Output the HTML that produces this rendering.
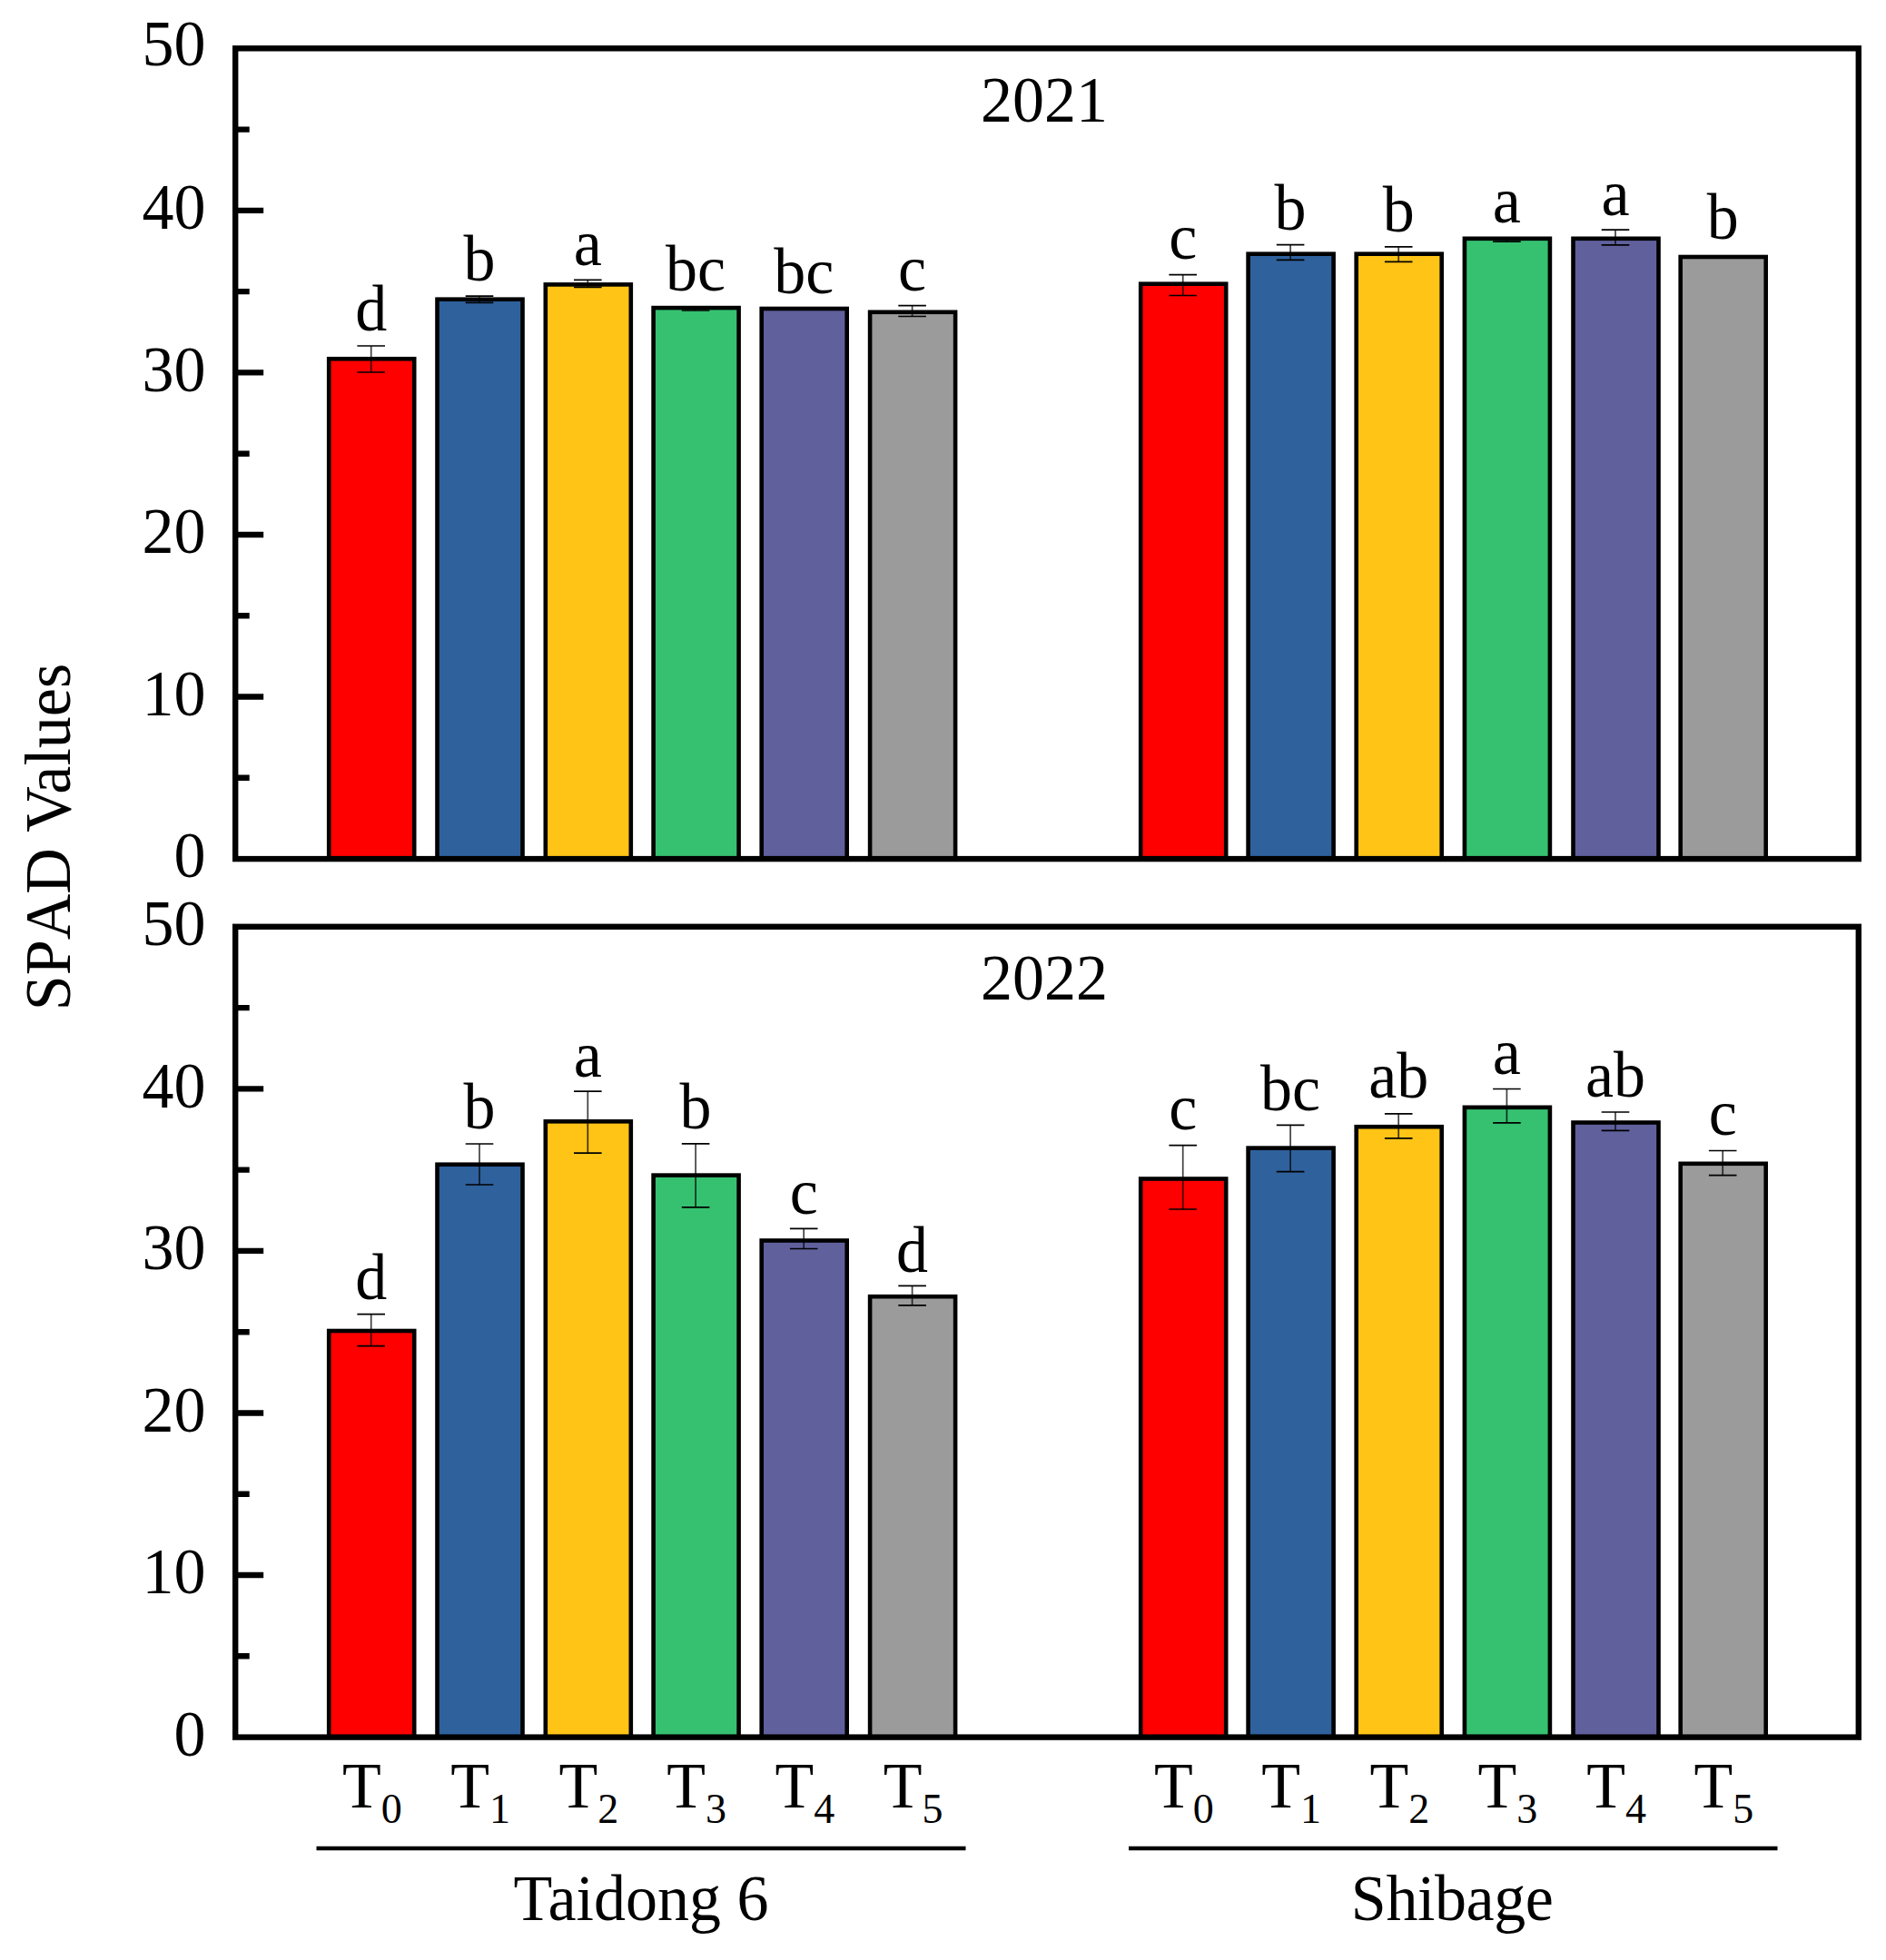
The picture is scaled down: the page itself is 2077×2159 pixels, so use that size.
<!DOCTYPE html>
<html lang="en"><head><meta charset="utf-8"><title>SPAD Values</title>
<style>html,body{margin:0;padding:0;background:#fff}body{width:2077px;height:2159px;overflow:hidden}svg{display:block}</style>
</head><body>
<svg width="2077" height="2159" viewBox="0 0 2077 2159" font-family='"Liberation Serif","Times New Roman",serif' font-size="70" fill="#000" style="font-kerning:none">
<rect width="2077" height="2159" fill="#fff"/>
<rect x="362.2" y="395.3" width="94" height="550.8" fill="#FF0000" stroke="#000" stroke-width="4.6"/>
<path d="M408.7 381V410" stroke="#000" stroke-opacity="0.75" stroke-width="1.7" fill="none"/><path d="M393.4 381h30.6M393.4 410h30.6" stroke="#000" stroke-width="1.7" fill="none"/>
<text transform="translate(408.7 363.5) scale(1 1.02)" text-anchor="middle">d</text>
<rect x="481.5" y="329.7" width="94" height="616.4" fill="#2F619D" stroke="#000" stroke-width="4.6"/>
<path d="M528 326.2V333.3" stroke="#000" stroke-opacity="0.75" stroke-width="1.7" fill="none"/><path d="M512.7 326.2h30.6M512.7 333.3h30.6" stroke="#000" stroke-width="1.7" fill="none"/>
<text transform="translate(528 309.3) scale(1 1.02)" text-anchor="middle">b</text>
<rect x="600.8" y="313.4" width="94" height="632.7" fill="#FFC416" stroke="#000" stroke-width="4.6"/>
<path d="M647.3 308.3V316.4" stroke="#000" stroke-opacity="0.75" stroke-width="1.7" fill="none"/><path d="M632 308.3h30.6M632 316.4h30.6" stroke="#000" stroke-width="1.7" fill="none"/>
<text transform="translate(647.3 292.3) scale(1 1.02)" text-anchor="middle">a</text>
<rect x="719.6" y="339.1" width="94" height="607" fill="#35C170" stroke="#000" stroke-width="4.6"/>
<path d="M766.1 338.6V342" stroke="#000" stroke-opacity="0.75" stroke-width="1.7" fill="none"/><path d="M750.8 338.6h30.6M750.8 342h30.6" stroke="#000" stroke-width="1.7" fill="none"/>
<text transform="translate(766.1 319.5) scale(1 1.02)" text-anchor="middle">bc</text>
<rect x="838.7" y="340" width="94" height="606.1" fill="#60609D" stroke="#000" stroke-width="4.6"/>
<text transform="translate(885.2 322.8) scale(1 1.02)" text-anchor="middle">bc</text>
<rect x="958.1" y="343.8" width="94" height="602.3" fill="#9B9B9B" stroke="#000" stroke-width="4.6"/>
<path d="M1004.6 336.7V348.5" stroke="#000" stroke-opacity="0.75" stroke-width="1.7" fill="none"/><path d="M989.3 336.7h30.6M989.3 348.5h30.6" stroke="#000" stroke-width="1.7" fill="none"/>
<text transform="translate(1004.6 319.6) scale(1 1.02)" text-anchor="middle">c</text>
<rect x="1256.2" y="312.7" width="94" height="633.4" fill="#FF0000" stroke="#000" stroke-width="4.6"/>
<path d="M1302.7 302.6V325.5" stroke="#000" stroke-opacity="0.75" stroke-width="1.7" fill="none"/><path d="M1287.4 302.6h30.6M1287.4 325.5h30.6" stroke="#000" stroke-width="1.7" fill="none"/>
<text transform="translate(1302.7 284.9) scale(1 1.02)" text-anchor="middle">c</text>
<rect x="1374.6" y="279.7" width="94" height="666.4" fill="#2F619D" stroke="#000" stroke-width="4.6"/>
<path d="M1421.1 269.6V286.4" stroke="#000" stroke-opacity="0.75" stroke-width="1.7" fill="none"/><path d="M1405.8 269.6h30.6M1405.8 286.4h30.6" stroke="#000" stroke-width="1.7" fill="none"/>
<text transform="translate(1421.1 253.2) scale(1 1.02)" text-anchor="middle">b</text>
<rect x="1493.7" y="279.7" width="94" height="666.4" fill="#FFC416" stroke="#000" stroke-width="4.6"/>
<path d="M1540.2 271.8V288.3" stroke="#000" stroke-opacity="0.75" stroke-width="1.7" fill="none"/><path d="M1524.9 271.8h30.6M1524.9 288.3h30.6" stroke="#000" stroke-width="1.7" fill="none"/>
<text transform="translate(1540.2 254.8) scale(1 1.02)" text-anchor="middle">b</text>
<rect x="1612.9" y="262.8" width="94" height="683.3" fill="#35C170" stroke="#000" stroke-width="4.6"/>
<path d="M1659.4 262.6V266.2" stroke="#000" stroke-opacity="0.75" stroke-width="1.7" fill="none"/><path d="M1644.1 262.6h30.6M1644.1 266.2h30.6" stroke="#000" stroke-width="1.7" fill="none"/>
<text transform="translate(1659.4 245) scale(1 1.02)" text-anchor="middle">a</text>
<rect x="1732.5" y="262.8" width="94" height="683.3" fill="#60609D" stroke="#000" stroke-width="4.6"/>
<path d="M1779 253.2V269.8" stroke="#000" stroke-opacity="0.75" stroke-width="1.7" fill="none"/><path d="M1763.7 253.2h30.6M1763.7 269.8h30.6" stroke="#000" stroke-width="1.7" fill="none"/>
<text transform="translate(1779 237) scale(1 1.02)" text-anchor="middle">a</text>
<rect x="1850.7" y="283" width="94" height="663.1" fill="#9B9B9B" stroke="#000" stroke-width="4.6"/>
<text transform="translate(1897.2 263) scale(1 1.02)" text-anchor="middle">b</text>
<rect x="259.2" y="53.3" width="1787.6" height="892.8" fill="none" stroke="#000" stroke-width="6.4"/>
<path d="M259.2 856.82h15.5M259.2 767.54h31M259.2 678.26h15.5M259.2 588.98h31M259.2 499.7h15.5M259.2 410.42h31M259.2 321.14h15.5M259.2 231.86h31M259.2 142.58h15.5" stroke="#000" stroke-width="6.4" fill="none"/>
<text transform="translate(226.5 966.4) scale(1 1.02)" text-anchor="end">0</text>
<text transform="translate(226.5 787.84) scale(1 1.02)" text-anchor="end">10</text>
<text transform="translate(226.5 609.28) scale(1 1.02)" text-anchor="end">20</text>
<text transform="translate(226.5 430.72) scale(1 1.02)" text-anchor="end">30</text>
<text transform="translate(226.5 252.16) scale(1 1.02)" text-anchor="end">40</text>
<text transform="translate(226.5 72.1) scale(1 1.02)" text-anchor="end">50</text>
<text transform="translate(1150 133.5) scale(1 1.02)" text-anchor="middle">2021</text>
<rect x="362.2" y="1466" width="94" height="447.6" fill="#FF0000" stroke="#000" stroke-width="4.6"/>
<path d="M408.7 1447.7V1482.6" stroke="#000" stroke-opacity="0.75" stroke-width="1.7" fill="none"/><path d="M393.4 1447.7h30.6M393.4 1482.6h30.6" stroke="#000" stroke-width="1.7" fill="none"/>
<text transform="translate(408.7 1431.1) scale(1 1.02)" text-anchor="middle">d</text>
<rect x="481.5" y="1282.7" width="94" height="630.9" fill="#2F619D" stroke="#000" stroke-width="4.6"/>
<path d="M528 1260V1305" stroke="#000" stroke-opacity="0.75" stroke-width="1.7" fill="none"/><path d="M512.7 1260h30.6M512.7 1305h30.6" stroke="#000" stroke-width="1.7" fill="none"/>
<text transform="translate(528 1243.1) scale(1 1.02)" text-anchor="middle">b</text>
<rect x="600.8" y="1235.3" width="94" height="678.3" fill="#FFC416" stroke="#000" stroke-width="4.6"/>
<path d="M647.3 1202.1V1270.2" stroke="#000" stroke-opacity="0.75" stroke-width="1.7" fill="none"/><path d="M632 1202.1h30.6M632 1270.2h30.6" stroke="#000" stroke-width="1.7" fill="none"/>
<text transform="translate(647.3 1185.9) scale(1 1.02)" text-anchor="middle">a</text>
<rect x="719.6" y="1294.6" width="94" height="619" fill="#35C170" stroke="#000" stroke-width="4.6"/>
<path d="M766.1 1259.9V1329.8" stroke="#000" stroke-opacity="0.75" stroke-width="1.7" fill="none"/><path d="M750.8 1259.9h30.6M750.8 1329.8h30.6" stroke="#000" stroke-width="1.7" fill="none"/>
<text transform="translate(766.1 1242.8) scale(1 1.02)" text-anchor="middle">b</text>
<rect x="838.7" y="1366.5" width="94" height="547.1" fill="#60609D" stroke="#000" stroke-width="4.6"/>
<path d="M885.2 1353.3V1375.5" stroke="#000" stroke-opacity="0.75" stroke-width="1.7" fill="none"/><path d="M869.9 1353.3h30.6M869.9 1375.5h30.6" stroke="#000" stroke-width="1.7" fill="none"/>
<text transform="translate(885.2 1336.7) scale(1 1.02)" text-anchor="middle">c</text>
<rect x="958.1" y="1428.2" width="94" height="485.4" fill="#9B9B9B" stroke="#000" stroke-width="4.6"/>
<path d="M1004.6 1416.4V1437.9" stroke="#000" stroke-opacity="0.75" stroke-width="1.7" fill="none"/><path d="M989.3 1416.4h30.6M989.3 1437.9h30.6" stroke="#000" stroke-width="1.7" fill="none"/>
<text transform="translate(1004.6 1400.5) scale(1 1.02)" text-anchor="middle">d</text>
<rect x="1256.2" y="1298.5" width="94" height="615.1" fill="#FF0000" stroke="#000" stroke-width="4.6"/>
<path d="M1302.7 1261.6V1332" stroke="#000" stroke-opacity="0.75" stroke-width="1.7" fill="none"/><path d="M1287.4 1261.6h30.6M1287.4 1332h30.6" stroke="#000" stroke-width="1.7" fill="none"/>
<text transform="translate(1302.7 1244) scale(1 1.02)" text-anchor="middle">c</text>
<rect x="1374.6" y="1264.6" width="94" height="649" fill="#2F619D" stroke="#000" stroke-width="4.6"/>
<path d="M1421.1 1239.3V1290.6" stroke="#000" stroke-opacity="0.75" stroke-width="1.7" fill="none"/><path d="M1405.8 1239.3h30.6M1405.8 1290.6h30.6" stroke="#000" stroke-width="1.7" fill="none"/>
<text transform="translate(1421.1 1222.8) scale(1 1.02)" text-anchor="middle">bc</text>
<rect x="1493.7" y="1241.2" width="94" height="672.4" fill="#FFC416" stroke="#000" stroke-width="4.6"/>
<path d="M1540.2 1226.9V1253.8" stroke="#000" stroke-opacity="0.75" stroke-width="1.7" fill="none"/><path d="M1524.9 1226.9h30.6M1524.9 1253.8h30.6" stroke="#000" stroke-width="1.7" fill="none"/>
<text transform="translate(1540.2 1208.7) scale(1 1.02)" text-anchor="middle">ab</text>
<rect x="1612.9" y="1219.8" width="94" height="693.8" fill="#35C170" stroke="#000" stroke-width="4.6"/>
<path d="M1659.4 1199.5V1236.9" stroke="#000" stroke-opacity="0.75" stroke-width="1.7" fill="none"/><path d="M1644.1 1199.5h30.6M1644.1 1236.9h30.6" stroke="#000" stroke-width="1.7" fill="none"/>
<text transform="translate(1659.4 1182.5) scale(1 1.02)" text-anchor="middle">a</text>
<rect x="1732.5" y="1236.5" width="94" height="677.1" fill="#60609D" stroke="#000" stroke-width="4.6"/>
<path d="M1779 1225V1245.3" stroke="#000" stroke-opacity="0.75" stroke-width="1.7" fill="none"/><path d="M1763.7 1225h30.6M1763.7 1245.3h30.6" stroke="#000" stroke-width="1.7" fill="none"/>
<text transform="translate(1779 1208) scale(1 1.02)" text-anchor="middle">ab</text>
<rect x="1850.7" y="1281.8" width="94" height="631.8" fill="#9B9B9B" stroke="#000" stroke-width="4.6"/>
<path d="M1897.2 1267.5V1294.6" stroke="#000" stroke-opacity="0.75" stroke-width="1.7" fill="none"/><path d="M1881.9 1267.5h30.6M1881.9 1294.6h30.6" stroke="#000" stroke-width="1.7" fill="none"/>
<text transform="translate(1897.2 1250) scale(1 1.02)" text-anchor="middle">c</text>
<rect x="259.2" y="1020.8" width="1787.6" height="892.8" fill="none" stroke="#000" stroke-width="6.4"/>
<path d="M259.2 1824.32h15.5M259.2 1735.04h31M259.2 1645.76h15.5M259.2 1556.48h31M259.2 1467.2h15.5M259.2 1377.92h31M259.2 1288.64h15.5M259.2 1199.36h31M259.2 1110.08h15.5" stroke="#000" stroke-width="6.4" fill="none"/>
<text transform="translate(226.5 1933.9) scale(1 1.02)" text-anchor="end">0</text>
<text transform="translate(226.5 1755.34) scale(1 1.02)" text-anchor="end">10</text>
<text transform="translate(226.5 1576.78) scale(1 1.02)" text-anchor="end">20</text>
<text transform="translate(226.5 1398.22) scale(1 1.02)" text-anchor="end">30</text>
<text transform="translate(226.5 1219.66) scale(1 1.02)" text-anchor="end">40</text>
<text transform="translate(226.5 1040.5) scale(1 1.02)" text-anchor="end">50</text>
<text transform="translate(1150 1101) scale(1 1.02)" text-anchor="middle">2022</text>
<text transform="translate(376.9 1990.5) scale(1 1.02)">T<tspan dy="17.5" font-size="46">0</tspan></text>
<text transform="translate(496.2 1990.5) scale(1 1.02)">T<tspan dy="17.5" font-size="46">1</tspan></text>
<text transform="translate(615.5 1990.5) scale(1 1.02)">T<tspan dy="17.5" font-size="46">2</tspan></text>
<text transform="translate(734.3 1990.5) scale(1 1.02)">T<tspan dy="17.5" font-size="46">3</tspan></text>
<text transform="translate(853.4 1990.5) scale(1 1.02)">T<tspan dy="17.5" font-size="46">4</tspan></text>
<text transform="translate(972.8 1990.5) scale(1 1.02)">T<tspan dy="17.5" font-size="46">5</tspan></text>
<text transform="translate(1270.9 1990.5) scale(1 1.02)">T<tspan dy="17.5" font-size="46">0</tspan></text>
<text transform="translate(1389.3 1990.5) scale(1 1.02)">T<tspan dy="17.5" font-size="46">1</tspan></text>
<text transform="translate(1508.4 1990.5) scale(1 1.02)">T<tspan dy="17.5" font-size="46">2</tspan></text>
<text transform="translate(1627.6 1990.5) scale(1 1.02)">T<tspan dy="17.5" font-size="46">3</tspan></text>
<text transform="translate(1747.2 1990.5) scale(1 1.02)">T<tspan dy="17.5" font-size="46">4</tspan></text>
<text transform="translate(1865.4 1990.5) scale(1 1.02)">T<tspan dy="17.5" font-size="46">5</tspan></text>
<path d="M348.5 2036H1063.5M1243 2036H1957.5" stroke="#000" stroke-width="4.4" fill="none"/>
<text transform="translate(705.9 2115) scale(1 1.02)" text-anchor="middle" dx="0 -4.7">Taidong 6</text>
<text transform="translate(1599.2 2115) scale(1 1.02)" text-anchor="middle" letter-spacing="-0.4">Shibage</text>
<text transform="translate(76.5 922) rotate(-90) scale(1 1.02)" text-anchor="middle" dx="0 0 0 0 0 0 -8.5">SPAD Values</text>
</svg>
</body></html>
